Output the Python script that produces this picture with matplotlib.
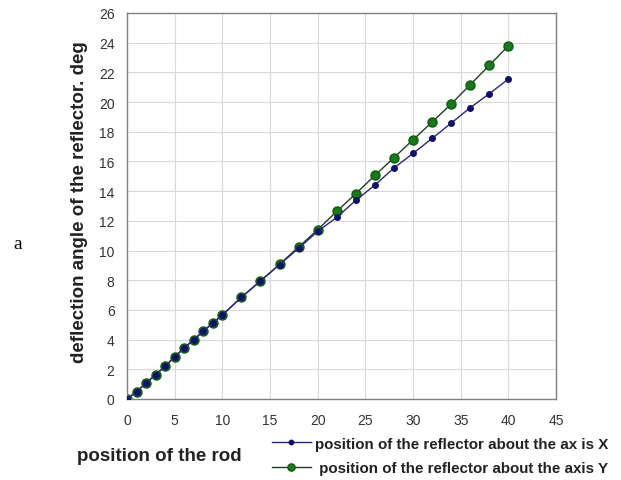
import numpy as np
import matplotlib.pyplot as plt

plt.rcParams['font.family'] = ['Liberation Sans', 'DejaVu Sans']

# rod position
pos = [0, 1, 2, 3, 4, 5, 6, 7, 8, 9, 10, 12, 14, 16, 18, 20, 22, 24, 26, 28, 30, 32, 34, 36, 38, 40]
# deflection about axis X
ang_x = [0, 0.49, 1.08, 1.64, 2.2, 2.85, 3.43, 4.0, 4.56, 5.12, 5.66, 6.85, 7.95, 9.05, 10.15,
         11.29, 12.23, 13.38, 14.41, 15.56, 16.54, 17.55, 18.58, 19.62, 20.56, 21.55]
# deflection about axis Y
ang_y = [0, 0.49, 1.08, 1.64, 2.2, 2.85, 3.43, 4.0, 4.56, 5.12, 5.66, 6.85, 7.95, 9.07, 10.24,
         11.4, 12.64, 13.83, 15.06, 16.25, 17.46, 18.65, 19.87, 21.17, 22.47, 23.79]

lbl_x = 'position of the reflector about the ax is X'
lbl_y = ' position of the reflector about the axis Y'

fig = plt.figure(figsize=(6.21, 4.81), dpi=100)
ax = fig.add_axes([127 / 621, 81 / 481, 429 / 621, 386 / 481])

lx, = ax.plot(pos, ang_x, '-', color='#2a2a7a', lw=1.0, marker='o', ms=4,
              mfc='#10106e', mec='#10106e', zorder=3)
ly, = ax.plot(pos, ang_y, '-', color='#1f3f1f', lw=1.0, marker='o', ms=6.5,
              mfc='#167a16', mec='#0f5a0f', zorder=2)

ax.set_xlim(0, 45)
ax.set_ylim(0, 26)
ax.set_xticks(np.arange(0, 46, 5))
ax.set_yticks(np.arange(0, 27, 2))
ax.grid(True, color='#d8d8d8', lw=0.8)
ax.set_axisbelow(True)
for s in ax.spines.values():
    s.set_color('#808080')
    s.set_linewidth(1.0)
ax.tick_params(length=0, labelsize=10, colors='#333333')
ax.tick_params(axis='x', pad=10)
ax.tick_params(axis='y', pad=9)

fig.text(80 / 621, 1 - 202 / 481, 'deflection angle of the reflector. deg', rotation=90,
         ha='center', va='center', fontsize=13.5, fontweight='bold', color='#222222')
fig.text(77 / 621, 1 - 457 / 481, 'position of the rod', ha='left', va='center',
         fontsize=13.5, fontweight='bold', color='#222222')
fig.text(18 / 621, 1 - 245 / 481, 'a', ha='center', va='center', fontsize=14,
         family='Liberation Serif')

fig.legend([lx, ly], [lbl_x, lbl_y], loc='upper left',
           bbox_to_anchor=(270 / 621, 1 - 436 / 481), frameon=False,
           prop={'size': 10.9, 'weight': 'bold'}, handlelength=2.6, handletextpad=0.3,
           labelspacing=0.68, markerscale=0.8, labelcolor='#222222',
           borderaxespad=0, borderpad=0.1)

fig.savefig('out.png', dpi=100)
